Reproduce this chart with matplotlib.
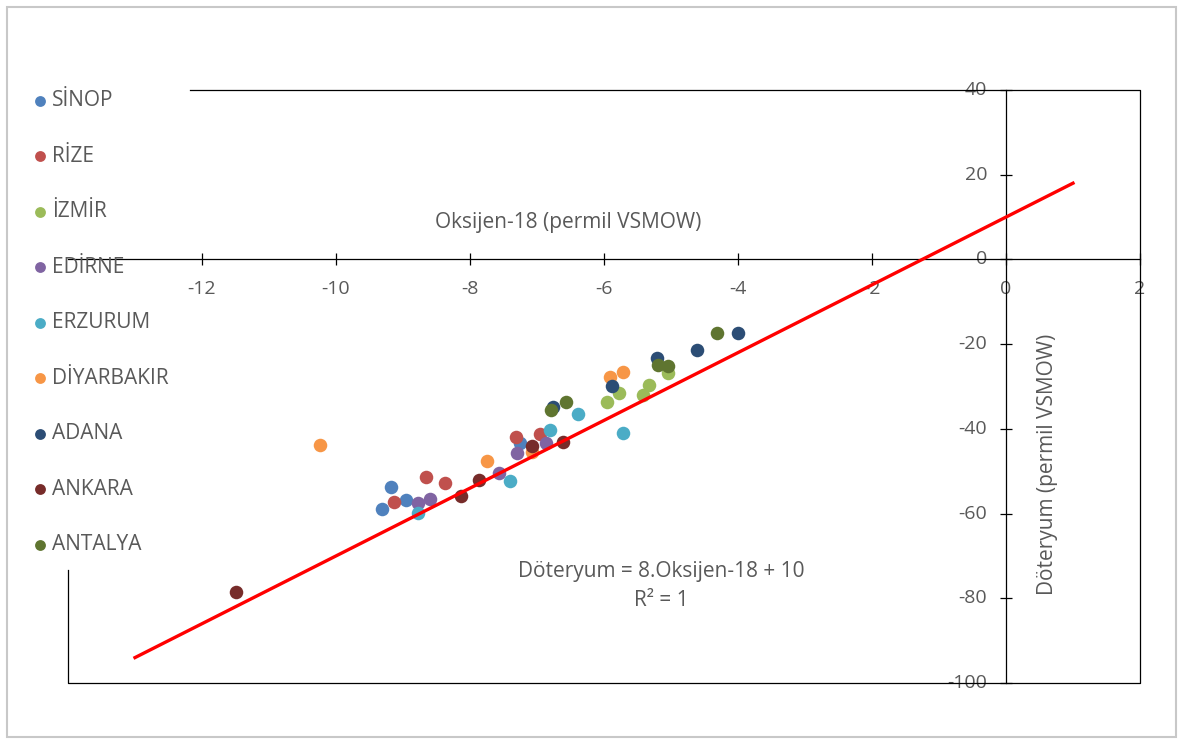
import numpy as np
import matplotlib.pyplot as plt
from matplotlib.patches import Rectangle
from matplotlib.lines import Line2D

plt.rcParams['font.family'] = ['Open Sans', 'DejaVu Sans']

stations = ['SİNOP', 'RİZE', 'İZMİR', 'EDİRNE', 'ERZURUM',
            'DİYARBAKIR', 'ADANA', 'ANKARA', 'ANTALYA']
colors = ['#4F81BD', '#C0504D', '#9BBB59', '#8064A2', '#4BACC6',
          '#F79646', '#2C4D75', '#772C2A', '#5F7530']

# oksijen-18 / doteryum values per station
o18 = {
    'SİNOP':      [-9.32, -9.18, -8.96, -7.26],
    'RİZE':       [-9.13, -8.66, -8.38, -7.32, -6.96],
    'İZMİR':      [-5.96, -5.78, -5.42, -5.33, -5.04],
    'EDİRNE':     [-8.78, -8.59, -7.57, -7.30, -6.87],
    'ERZURUM':    [-8.78, -7.41, -6.80, -6.39, -5.72],
    'DİYARBAKIR': [-10.24, -7.74, -7.08, -5.91, -5.72],
    'ADANA':      [-6.76, -5.88, -5.21, -4.61, -4.00],
    'ANKARA':     [-11.49, -8.14, -7.86, -7.08, -6.61],
    'ANTALYA':    [-6.79, -6.57, -5.19, -5.04, -4.31],
}
d2h = {
    'SİNOP':      [-58.9, -53.7, -56.8, -43.3],
    'RİZE':       [-57.2, -51.3, -52.8, -41.9, -41.2],
    'İZMİR':      [-33.6, -31.5, -32.0, -29.6, -26.8],
    'EDİRNE':     [-57.5, -56.5, -50.4, -45.7, -43.3],
    'ERZURUM':    [-59.8, -52.3, -40.3, -36.5, -41.0],
    'DİYARBAKIR': [-43.8, -47.6, -45.4, -27.7, -26.5],
    'ADANA':      [-34.9, -29.8, -23.3, -21.4, -17.3],
    'ANKARA':     [-78.5, -55.8, -52.1, -44.0, -43.1],
    'ANTALYA':    [-35.5, -33.6, -24.9, -25.1, -17.4],
}

slope, intercept = 8, 10
line_x = [-13, 1]

xticks = [-12, -10, -8, -6, -4, -2, 0, 2]
yticks = [40, 20, 0, -20, -40, -60, -80, -100]

grey = '#595959'

fig = plt.figure(figsize=(11.87, 7.46), dpi=100)
fig.patches.append(Rectangle((0.006, 0.012), 0.985, 0.978, transform=fig.transFigure,
                             facecolor='white', edgecolor='#c8c8c8', lw=1.5, zorder=-5))
ax = fig.add_axes([68/1187, 1-683/746, (1140-68)/1187, (683-90)/746])
ax.set_xlim(-14, 2)
ax.set_ylim(-100, 40)
ax.patch.set_alpha(0)

for s, c in zip(stations, colors):
    ax.scatter(o18[s], d2h[s], s=95, color=c, label=s, zorder=3, linewidths=0)

lx = np.array(line_x)
ax.plot(lx, slope*lx + intercept, color='#FF0000', lw=2.4, zorder=4)

# axes crossing at origin
for side in ['top', 'right']:
    ax.spines[side].set_visible(False)
ax.spines['left'].set_position(('data', 0))
ax.spines['bottom'].set_position(('data', 0))
ax.spines['left'].set_linewidth(0.9)
ax.spines['bottom'].set_linewidth(0.9)
ax.set_xticks(xticks)
ax.set_yticks(yticks)
ax.set_xticklabels([str(t) for t in xticks])
ax.set_yticklabels([str(t) for t in yticks])
ax.tick_params(axis='x', direction='inout', length=9, width=0.9, pad=10,
               labelsize=14, labelcolor=grey)
ax.tick_params(axis='y', direction='inout', length=9, width=0.9, pad=9,
               labelsize=14, labelcolor=grey)
for lab in ax.get_yticklabels():
    lab.set_verticalalignment('center')

# plot area border (partly hidden by the legend)
ax.add_line(Line2D([0.114, 1, 1, 0, 0], [1, 1, 0, 0, 0.19], transform=ax.transAxes,
                   color='black', lw=0.9, clip_on=False))

ax.text(-6.54, 8.8, 'Oksijen-18 (permil VSMOW)', ha='center', va='center',
        fontsize=15, color=grey)
ax.text(0.62, -48.3, 'Döteryum (permil VSMOW)', ha='center', va='center',
        rotation=90, fontsize=15, color=grey)
ax.text(-5.14, -77.1, 'Döteryum = 8.Oksijen-18 + 10\nR² = 1', ha='center',
        va='center', fontsize=15, color=grey, linespacing=1.45)

leg = fig.legend(loc='upper left', bbox_to_anchor=(21/1187, 1-82/746),
                 frameon=False, fontsize=15, labelspacing=1.655,
                 handletextpad=0.05, handlelength=1.05, markerscale=0.8,
                 borderaxespad=0)
for t in leg.get_texts():
    t.set_color(grey)

fig.savefig('out.png', dpi=100)
